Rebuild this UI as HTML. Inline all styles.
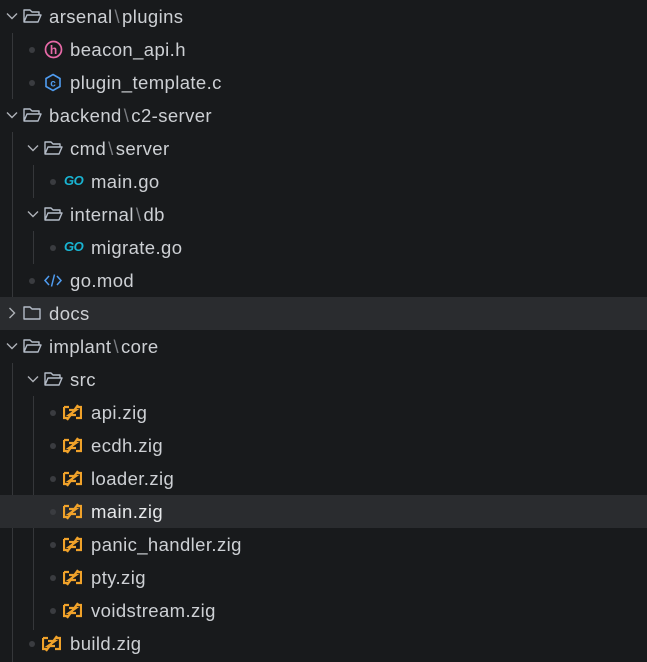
<!DOCTYPE html>
<html><head><meta charset="utf-8"><style>
body{margin:0;width:647px;height:662px;background:#181a1c;overflow:hidden;font-family:"Liberation Sans",sans-serif;}
.r{position:absolute;left:0;width:647px;height:33px;}
.hl{background:#2a2c2f;}
.t{position:absolute;top:6px;font-size:18.5px;letter-spacing:0.4px;color:#cdd0d4;white-space:nowrap;line-height:21px;}
.sep{color:#7a7d82;margin:0 2px;}
svg{position:absolute;}
.dot{position:absolute;width:6px;height:6px;border-radius:3px;background:#3a3c40;top:14px;}
.g{position:absolute;width:1px;background:#35373a;}
.go{position:absolute;top:8px;font:italic bold 13px "Liberation Sans",sans-serif;color:#19b4d2;letter-spacing:-0.5px;}
</style></head><body>
<div class="g" style="left:12px;top:33px;height:66px"></div>
<div class="g" style="left:12px;top:132px;height:165px"></div>
<div class="g" style="left:33px;top:165px;height:33px"></div>
<div class="g" style="left:33px;top:231px;height:33px"></div>
<div class="g" style="left:12px;top:363px;height:299px"></div>
<div class="g" style="left:33px;top:396px;height:234px"></div>

<div class="r" style="top:0">
<svg style="left:6px;top:12px" width="12" height="8" viewBox="0 0 12 8"><path d="M1 1.5 L6 6.5 L11 1.5" stroke="#aeb2b8" stroke-width="1.4" fill="none"/></svg>
<svg style="left:23px;top:8px" width="19" height="16" viewBox="0 0 19 16"><path d="M1 14V2h6l2 2h7v3M1 14l3-7h14l-3 7z" stroke="#b4bcc8" stroke-width="1.4" fill="none" stroke-linejoin="round"/></svg>
<div class="t" style="left:49px">arsenal<span class="sep">\</span>plugins</div></div>
<div class="r" style="top:33px"><div class="dot" style="left:29px"></div>
<svg style="left:44px;top:7px" width="19" height="19" viewBox="0 0 19 19"><circle cx="9.5" cy="9.5" r="8" stroke="#e86aa8" stroke-width="1.7" fill="none"/><text x="9.5" y="14" font-size="12" font-weight="bold" fill="#e86aa8" text-anchor="middle" font-family="Liberation Sans">h</text></svg>
<div class="t" style="left:70px">beacon_api.h</div></div>
<div class="r" style="top:66px"><div class="dot" style="left:29px"></div>
<svg style="left:44px;top:7px" width="18" height="19" viewBox="0 0 18 19"><path d="M9 1.5L16 5.5V13.5L9 17.5L2 13.5V5.5Z" stroke="#4f9cf0" stroke-width="1.6" fill="none"/><text x="9" y="13.5" font-size="10" font-weight="bold" fill="#4f9cf0" text-anchor="middle" font-family="Liberation Sans">c</text></svg>
<div class="t" style="left:70px">plugin_template.c</div></div>
<div class="r" style="top:99px">
<svg style="left:6px;top:12px" width="12" height="8" viewBox="0 0 12 8"><path d="M1 1.5 L6 6.5 L11 1.5" stroke="#aeb2b8" stroke-width="1.4" fill="none"/></svg>
<svg style="left:23px;top:8px" width="19" height="16" viewBox="0 0 19 16"><path d="M1 14V2h6l2 2h7v3M1 14l3-7h14l-3 7z" stroke="#b4bcc8" stroke-width="1.4" fill="none" stroke-linejoin="round"/></svg>
<div class="t" style="left:49px">backend<span class="sep">\</span>c2-server</div></div>
<div class="r" style="top:132px">
<svg style="left:27px;top:12px" width="12" height="8" viewBox="0 0 12 8"><path d="M1 1.5 L6 6.5 L11 1.5" stroke="#aeb2b8" stroke-width="1.4" fill="none"/></svg>
<svg style="left:44px;top:8px" width="19" height="16" viewBox="0 0 19 16"><path d="M1 14V2h6l2 2h7v3M1 14l3-7h14l-3 7z" stroke="#b4bcc8" stroke-width="1.4" fill="none" stroke-linejoin="round"/></svg>
<div class="t" style="left:70px">cmd<span class="sep">\</span>server</div></div>
<div class="r" style="top:165px"><div class="dot" style="left:50px"></div><div class="go" style="left:64px">GO</div>
<div class="t" style="left:91px">main.go</div></div>
<div class="r" style="top:198px">
<svg style="left:27px;top:12px" width="12" height="8" viewBox="0 0 12 8"><path d="M1 1.5 L6 6.5 L11 1.5" stroke="#aeb2b8" stroke-width="1.4" fill="none"/></svg>
<svg style="left:44px;top:8px" width="19" height="16" viewBox="0 0 19 16"><path d="M1 14V2h6l2 2h7v3M1 14l3-7h14l-3 7z" stroke="#b4bcc8" stroke-width="1.4" fill="none" stroke-linejoin="round"/></svg>
<div class="t" style="left:70px">internal<span class="sep">\</span>db</div></div>
<div class="r" style="top:231px"><div class="dot" style="left:50px"></div><div class="go" style="left:64px">GO</div>
<div class="t" style="left:91px">migrate.go</div></div>
<div class="r" style="top:264px"><div class="dot" style="left:29px"></div>
<svg style="left:43px;top:9px" width="20" height="15" viewBox="0 0 20 15"><path d="M6 3L2 7.5L6 12M14 3L18 7.5L14 12M11.5 1.5L8.5 13.5" stroke="#4f9cf0" stroke-width="1.5" fill="none"/></svg>
<div class="t" style="left:70px">go.mod</div></div>
<div class="r hl" style="top:297px">
<svg style="left:8px;top:10px" width="8" height="12" viewBox="0 0 8 12"><path d="M1.5 1 L6.5 6 L1.5 11" stroke="#aeb2b8" stroke-width="1.4" fill="none"/></svg>
<svg style="left:23px;top:8px" width="19" height="16" viewBox="0 0 19 16"><path d="M1 14V2h6l2 2h8v10z" stroke="#b4bcc8" stroke-width="1.4" fill="none" stroke-linejoin="round"/></svg>
<div class="t" style="left:49px">docs</div></div>
<div class="r" style="top:330px">
<svg style="left:6px;top:12px" width="12" height="8" viewBox="0 0 12 8"><path d="M1 1.5 L6 6.5 L11 1.5" stroke="#aeb2b8" stroke-width="1.4" fill="none"/></svg>
<svg style="left:23px;top:8px" width="19" height="16" viewBox="0 0 19 16"><path d="M1 14V2h6l2 2h7v3M1 14l3-7h14l-3 7z" stroke="#b4bcc8" stroke-width="1.4" fill="none" stroke-linejoin="round"/></svg>
<div class="t" style="left:49px">implant<span class="sep">\</span>core</div></div>
<div class="r" style="top:363px">
<svg style="left:27px;top:12px" width="12" height="8" viewBox="0 0 12 8"><path d="M1 1.5 L6 6.5 L11 1.5" stroke="#aeb2b8" stroke-width="1.4" fill="none"/></svg>
<svg style="left:44px;top:8px" width="19" height="16" viewBox="0 0 19 16"><path d="M1 14V2h6l2 2h7v3M1 14l3-7h14l-3 7z" stroke="#b4bcc8" stroke-width="1.4" fill="none" stroke-linejoin="round"/></svg>
<div class="t" style="left:70px">src</div></div>

<div class="r" style="top:396px"><div class="dot" style="left:50px"></div>
<svg style="left:63px;top:8px" width="19" height="17" viewBox="0 0 19 17"><path d="M1 3h5M1 3v11h4M13 14h5V3h-4M6 6h7l-7 5h7M15 1L4 16" stroke="#f0a22a" stroke-width="2.2" fill="none"/></svg>
<div class="t" style="left:91px">api.zig</div></div>
<div class="r" style="top:429px"><div class="dot" style="left:50px"></div>
<svg style="left:63px;top:8px" width="19" height="17" viewBox="0 0 19 17"><path d="M1 3h5M1 3v11h4M13 14h5V3h-4M6 6h7l-7 5h7M15 1L4 16" stroke="#f0a22a" stroke-width="2.2" fill="none"/></svg>
<div class="t" style="left:91px">ecdh.zig</div></div>
<div class="r" style="top:462px"><div class="dot" style="left:50px"></div>
<svg style="left:63px;top:8px" width="19" height="17" viewBox="0 0 19 17"><path d="M1 3h5M1 3v11h4M13 14h5V3h-4M6 6h7l-7 5h7M15 1L4 16" stroke="#f0a22a" stroke-width="2.2" fill="none"/></svg>
<div class="t" style="left:91px">loader.zig</div></div>
<div class="r hl" style="top:495px"><div class="dot" style="left:50px"></div>
<svg style="left:63px;top:8px" width="19" height="17" viewBox="0 0 19 17"><path d="M1 3h5M1 3v11h4M13 14h5V3h-4M6 6h7l-7 5h7M15 1L4 16" stroke="#f0a22a" stroke-width="2.2" fill="none"/></svg>
<div class="t" style="left:91px;color:#e6e8ea">main.zig</div></div>
<div class="r" style="top:528px"><div class="dot" style="left:50px"></div>
<svg style="left:63px;top:8px" width="19" height="17" viewBox="0 0 19 17"><path d="M1 3h5M1 3v11h4M13 14h5V3h-4M6 6h7l-7 5h7M15 1L4 16" stroke="#f0a22a" stroke-width="2.2" fill="none"/></svg>
<div class="t" style="left:91px">panic_handler.zig</div></div>
<div class="r" style="top:561px"><div class="dot" style="left:50px"></div>
<svg style="left:63px;top:8px" width="19" height="17" viewBox="0 0 19 17"><path d="M1 3h5M1 3v11h4M13 14h5V3h-4M6 6h7l-7 5h7M15 1L4 16" stroke="#f0a22a" stroke-width="2.2" fill="none"/></svg>
<div class="t" style="left:91px">pty.zig</div></div>
<div class="r" style="top:594px"><div class="dot" style="left:50px"></div>
<svg style="left:63px;top:8px" width="19" height="17" viewBox="0 0 19 17"><path d="M1 3h5M1 3v11h4M13 14h5V3h-4M6 6h7l-7 5h7M15 1L4 16" stroke="#f0a22a" stroke-width="2.2" fill="none"/></svg>
<div class="t" style="left:91px">voidstream.zig</div></div>
<div class="r" style="top:627px"><div class="dot" style="left:29px"></div>
<svg style="left:42px;top:8px" width="19" height="17" viewBox="0 0 19 17"><path d="M1 3h5M1 3v11h4M13 14h5V3h-4M6 6h7l-7 5h7M15 1L4 16" stroke="#f0a22a" stroke-width="2.2" fill="none"/></svg>
<div class="t" style="left:70px">build.zig</div></div>
</body></html>
